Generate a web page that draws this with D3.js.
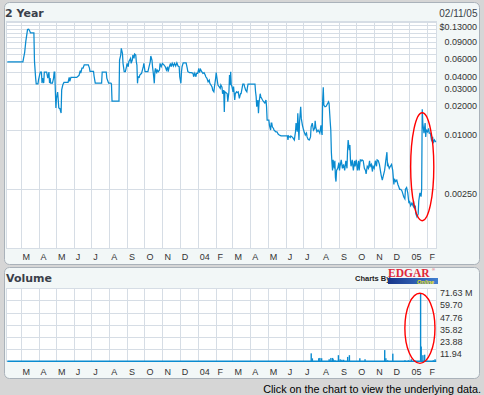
<!DOCTYPE html>
<html>
<head>
<meta charset="utf-8">
<script src="https://cdn.jsdelivr.net/npm/d3@7"></script>
<style>
body { margin: 0; background: #d6d6d6; }
svg { display: block; }
</style>
</head>
<body>
<script>

// ---- data (days counted from startDate) ----
var startDate = new Date(2003, 1, 5);
var endDate = new Date(2005, 1, 17);
var asOfLabel = "02/11/05";

var priceSeries = [[1,0.0505],[28,0.0505],[29,0.0543],[31,0.0626],[33,0.0818],[36,0.108],[38,0.109],[40,0.104],[41,0.0996],[47,0.0996],[48,0.051],[50,0.0344],[51,0.0301],[54,0.0301],[55,0.033],[57,0.0373],[58,0.0397],[60,0.0397],[61,0.0306],[62,0.0344],[64,0.0306],[65,0.0397],[69,0.0397],[71,0.0344],[73,0.0397],[74,0.0306],[75,0.0344],[76,0.0306],[79,0.0306],[81,0.0344],[82,0.0397],[83,0.0397],[85,0.017],[86,0.0215],[88,0.0247],[89,0.0207],[90,0.017],[92,0.0167],[94,0.0151],[95,0.0261],[97,0.0294],[99,0.0311],[106,0.0311],[108,0.035],[109,0.0319],[111,0.035],[121,0.035],[125,0.0367],[127,0.0409],[128,0.0388],[130,0.0436],[132,0.0436],[134,0.0471],[141,0.0471],[143,0.0436],[144,0.0403],[150,0.0403],[151,0.0359],[153,0.0306],[164,0.0306],[165,0.0397],[172,0.0397],[173,0.0344],[176,0.0306],[180,0.0306],[181,0.0299],[182,0.02],[194,0.02],[195,0.0527],[197,0.0592],[198,0.0694],[200,0.0617],[201,0.0487],[203,0.04],[205,0.04],[207,0.045],[208,0.0487],[210,0.045],[211,0.0505],[214,0.0548],[215,0.0487],[217,0.0527],[218,0.0592],[220,0.0548],[221,0.0607],[223,0.0592],[224,0.0505],[225,0.0468],[226,0.0304],[227,0.0355],[229,0.035],[230,0.037],[233,0.0385],[236,0.045],[237,0.0487],[239,0.04],[244,0.04],[246,0.045],[248,0.0505],[249,0.0579],[251,0.0527],[252,0.045],[254,0.0355],[255,0.0304],[256,0.04],[257,0.0433],[259,0.0385],[260,0.0416],[262,0.04],[264,0.0416],[265,0.0487],[267,0.045],[269,0.0487],[272,0.0468],[274,0.045],[276,0.0416],[278,0.045],[279,0.04],[281,0.045],[283,0.0487],[284,0.045],[286,0.0487],[288,0.0457],[290,0.0487],[292,0.0457],[294,0.0493],[296,0.0457],[298,0.045],[299,0.0355],[301,0.0304],[302,0.04],[303,0.045],[305,0.0493],[310,0.0493],[312,0.0433],[313,0.04],[316,0.0391],[319,0.0391],[322,0.0385],[323,0.0355],[325,0.0385],[327,0.0355],[328,0.0385],[330,0.0385],[332,0.0433],[333,0.0391],[335,0.0423],[337,0.04],[339,0.0385],[341,0.0391],[343,0.037],[344,0.0355],[346,0.0342],[348,0.0315],[350,0.0328],[351,0.0304],[353,0.0292],[355,0.0277],[356,0.0259],[358,0.0249],[359,0.0281],[361,0.0342],[362,0.0391],[363,0.0355],[365,0.0292],[367,0.0281],[369,0.027],[370,0.0292],[372,0.0277],[373,0.0238],[375,0.0259],[376,0.0155],[377,0.0249],[379,0.0244],[381,0.0238],[382,0.0197],[384,0.0249],[385,0.037],[386,0.0292],[387,0.04],[388,0.0292],[389,0.0285],[391,0.0249],[392,0.0281],[394,0.0205],[395,0.0238],[397,0.0249],[398,0.0244],[400,0.0249],[402,0.0213],[404,0.0238],[405,0.0238],[408,0.0299],[410,0.0299],[411,0.0281],[413,0.0259],[415,0.0249],[416,0.0277],[417,0.0299],[429,0.0299],[430,0.0249],[431,0.0222],[432,0.0175],[434,0.0205],[435,0.015],[436,0.0191],[438,0.0238],[439,0.0222],[442,0.0205],[444,0.0197],[446,0.0191],[448,0.0205],[449,0.0175],[450,0.0128],[453,0.0128],[454,0.0113],[456,0.0101],[457,0.0119],[458,0.0119],[459,0.0109],[461,0.0105],[462,0.0101],[465,0.0097],[467,0.0097],[469,0.0092],[471,0.009],[474,0.0088],[485,0.0088],[486,0.008],[487,0.0088],[490,0.0085],[491,0.0088],[494,0.0085],[497,0.008],[499,0.0097],[500,0.0119],[502,0.0097],[503,0.015],[504,0.0109],[505,0.008],[506,0.0123],[508,0.0175],[509,0.0133],[511,0.0113],[513,0.0101],[514,0.0097],[516,0.009],[518,0.0094],[519,0.0086],[521,0.0081],[523,0.008],[525,0.0086],[526,0.0109],[528,0.0119],[530,0.0101],[532,0.0105],[533,0.0126],[534,0.0109],[536,0.0097],[538,0.0101],[540,0.0097],[541,0.0094],[543,0.0113],[544,0.0097],[545,0.009],[546,0.0205],[547,0.0277],[548,0.0182],[550,0.0175],[552,0.0177],[555,0.0191],[556,0.0197],[557,0.0191],[559,0.0123],[560,0.0101],[561,0.006],[562,0.0047],[563,0.0039],[564,0.005],[566,0.0041],[567,0.0049],[568,0.0033],[569,0.003],[570,0.0039],[572,0.0041],[574,0.0047],[575,0.0039],[576,0.0043],[578,0.005],[580,0.0041],[582,0.0045],[584,0.0039],[586,0.0049],[588,0.0041],[589,0.0063],[590,0.008],[592,0.0063],[593,0.0071],[594,0.0049],[595,0.0043],[597,0.005],[599,0.0039],[601,0.0049],[602,0.0043],[604,0.005],[606,0.0039],[608,0.0049],[609,0.0039],[611,0.005],[613,0.0049],[614,0.005],[616,0.0049],[618,0.0041],[620,0.0039],[621,0.0036],[623,0.0043],[625,0.0041],[627,0.0049],[628,0.0043],[630,0.0045],[632,0.0038],[633,0.0043],[635,0.0041],[637,0.0049],[639,0.0043],[640,0.005],[642,0.0049],[644,0.0045],[646,0.0038],[647,0.0035],[649,0.0031],[650,0.0033],[651,0.0035],[653,0.0039],[655,0.0049],[657,0.006],[658,0.0043],[659,0.0045],[661,0.0041],[663,0.0043],[665,0.0045],[667,0.0039],[668,0.0033],[669,0.0028],[670,0.0032],[672,0.003],[674,0.0031],[676,0.0028],[677,0.0027],[679,0.0025],[681,0.0025],[683,0.0024],[684,0.0023],[686,0.0021],[688,0.002],[689,0.0025],[691,0.0026],[693,0.0023],[695,0.0018],[696,0.0019],[698,0.0017],[700,0.0018],[702,0.0017],[703,0.0019],[704,0.0016],[706,0.0017],[707,0.0014],[709,0.0013],[711,0.0014],[712,0.0019],[714,0.0023],[716,0.0021],[717,0.0025],[718,0.0165],[719,0.0119],[721,0.0094],[722,0.0105],[723,0.0119],[724,0.0086],[725,0.0101],[727,0.0097],[729,0.0105],[730,0.0094],[732,0.0094],[734,0.008],[736,0.0086],[737,0.0074],[739,0.008],[741,0.0077],[742,0.0077]];

// volume in millions
var volumeSeries = [[526,7.8],[528,2.9],[539,3.0],[541,3.3],[544,3.0],[557,2.0],[560,3.3],[563,3.3],[564,2.0],[567,1.0],[573,6.0],[576,2.0],[579,1.5],[582,1.5],[589,4.3],[592,6.0],[610,3.0],[619,2.0],[653,11.0],[655,3.0],[658,1.0],[667,7.5],[688,1.0],[694,1.0],[699,2.0],[705,0.8],[715,67.0],[716,14.5],[719,6.0],[722,6.5],[737,1.0],[740,2.0]];

var priceGrid = [0.13, 0.12, 0.11, 0.10, 0.09, 0.08, 0.07, 0.06, 0.05, 0.04, 0.03, 0.02, 0.01, 0.0025];
var priceLabelled = [0.13, 0.09, 0.06, 0.04, 0.03, 0.02, 0.01, 0.0025];
var volumeTicks = [11.94, 23.88, 35.82, 47.76, 59.70, 71.63];
var volumeMax = 71.63;

// circled region
var markDays = [698, 738];
var markPrice = [0.00119, 0.0152];
var markVolDays = [688, 740];
var markVol = [-2, 66.7];

// ---- layout ----
var W = 484, H = 395;
var lineBlue = "#0a8bd0", gridCol = "#d6dde5";
var font = "'Liberation Sans', Arial, sans-serif";
var titleFont = "'DejaVu Sans', Verdana, sans-serif";

function dayToDate(d) { return d3.timeDay.offset(startDate, d); }

var x = d3.scaleTime().domain([startDate, endDate]).range([6.7, 436.7]);
var y = d3.scaleLog().domain([0.000622, 0.13]).range([248.3, 21.7]);
var vy = d3.scaleLinear().domain([0, volumeMax]).range([361.3, 288.3]);

var months = d3.timeMonth.range(startDate, endDate);
function monthLabel(m) { return m.getMonth() === 0 ? d3.timeFormat("%y")(m) : d3.timeFormat("%b")(m).charAt(0); }
function px(v) { return Math.round(v) + 0.5; }

var svg = d3.select("body").append("svg").attr("width", W).attr("height", H);

svg.append("rect").attr("width", W).attr("height", H).attr("fill", "#d6d6d6");

// panels
svg.append("rect").attr("x", 4.5).attr("y", 2.5).attr("width", 475).attr("height", 262)
  .attr("rx", 5).attr("fill", "#f2f7f7").attr("stroke", "#aab2ba");
svg.append("rect").attr("x", 4.5).attr("y", 267.5).attr("width", 475).attr("height", 111)
  .attr("rx", 5).attr("fill", "#f2f7f7").attr("stroke", "#aab2ba");

// titles
svg.append("text").attr("x", 5).attr("y", 16.7).attr("font-family", titleFont).attr("font-weight", "bold")
  .attr("font-size", 11).attr("fill", "#3a3f4a").text("2 Year");
svg.append("text").attr("x", 477.5).attr("y", 16.7).attr("text-anchor", "end").attr("font-family", font)
  .attr("font-size", 10).attr("fill", "#3a3f4a").text(asOfLabel);
svg.append("text").attr("x", 6).attr("y", 282.3).attr("font-family", titleFont).attr("font-weight", "bold")
  .attr("font-size", 11).attr("fill", "#3a3f4a").text("Volume");

// ---- price plot ----
var pricePanel = svg.append("g");
pricePanel.append("rect").attr("x", 6.5).attr("y", 21.5).attr("width", 430).attr("height", 227)
  .attr("fill", "#fff").attr("stroke", gridCol).attr("shape-rendering", "crispEdges");
pricePanel.selectAll("line.hg").data(priceGrid).join("line").attr("class", "hg")
  .attr("x1", 6.5).attr("x2", 436.5).attr("y1", function(d) { return px(y(d)); }).attr("y2", function(d) { return px(y(d)); })
  .attr("stroke", gridCol).attr("shape-rendering", "crispEdges");
pricePanel.selectAll("line.vg").data(months).join("line").attr("class", "vg")
  .attr("x1", function(d) { return px(x(d)); }).attr("x2", function(d) { return px(x(d)); })
  .attr("y1", 21.5).attr("y2", 248.5).attr("stroke", gridCol).attr("shape-rendering", "crispEdges");

pricePanel.selectAll("text.pl").data(priceLabelled).join("text").attr("class", "pl")
  .attr("x", 477).attr("y", function(d) { return y(d) + 8; }).attr("text-anchor", "end")
  .attr("font-family", font).attr("font-size", 9).attr("fill", "#333")
  .text(function(d, i) { return (i === 0 ? "$" : "") + d3.format(".5f")(d); });

pricePanel.selectAll("text.ml").data(months).join("text").attr("class", "ml")
  .attr("x", function(d) { return x(d) + 2; }).attr("y", 260).attr("font-family", font)
  .attr("font-size", 9).attr("fill", "#333").text(monthLabel);

var line = d3.line().x(function(d) { return x(dayToDate(d[0])); }).y(function(d) { return y(d[1]); });
pricePanel.append("path").datum(priceSeries).attr("d", line).attr("fill", "none")
  .attr("stroke", lineBlue).attr("stroke-width", 1.25);

pricePanel.append("ellipse")
  .attr("cx", (x(dayToDate(markDays[0])) + x(dayToDate(markDays[1]))) / 2)
  .attr("rx", (x(dayToDate(markDays[1])) - x(dayToDate(markDays[0]))) / 2)
  .attr("cy", (y(markPrice[0]) + y(markPrice[1])) / 2)
  .attr("ry", (y(markPrice[0]) - y(markPrice[1])) / 2)
  .attr("fill", "none").attr("stroke", "#ff0000").attr("stroke-width", 1.4);

// ---- volume plot ----
var volPanel = svg.append("g");
volPanel.append("rect").attr("x", 6.5).attr("y", 288.5).attr("width", 430).attr("height", 73)
  .attr("fill", "#fff").attr("stroke", gridCol).attr("shape-rendering", "crispEdges");
volPanel.selectAll("line.hg").data(volumeTicks).join("line").attr("class", "hg")
  .attr("x1", 6.5).attr("x2", 436.5).attr("y1", function(d) { return px(vy(d)); }).attr("y2", function(d) { return px(vy(d)); })
  .attr("stroke", gridCol).attr("shape-rendering", "crispEdges");
volPanel.selectAll("line.vg").data(months).join("line").attr("class", "vg")
  .attr("x1", function(d) { return px(x(d)); }).attr("x2", function(d) { return px(x(d)); })
  .attr("y1", 288.5).attr("y2", 361.5).attr("stroke", gridCol).attr("shape-rendering", "crispEdges");

volPanel.selectAll("text.vl").data(volumeTicks).join("text").attr("class", "vl")
  .attr("x", 440).attr("y", function(d) { return vy(d) + 8; })
  .attr("font-family", font).attr("font-size", 9).attr("fill", "#333")
  .text(function(d) { return d3.format(".2f")(d) + (d === volumeMax ? " M" : ""); });

volPanel.selectAll("text.ml").data(months).join("text").attr("class", "ml")
  .attr("x", function(d) { return x(d) + 2; }).attr("y", 375).attr("font-family", font)
  .attr("font-size", 9).attr("fill", "#333").text(monthLabel);

volPanel.append("line")
  .attr("x1", x(dayToDate(priceSeries[0][0]))).attr("x2", x(dayToDate(priceSeries[priceSeries.length - 1][0])))
  .attr("y1", vy(0)).attr("y2", vy(0)).attr("stroke", lineBlue).attr("stroke-width", 1.6);

volPanel.selectAll("rect.bar").data(volumeSeries).join("rect").attr("class", "bar")
  .attr("x", function(d) { return x(dayToDate(d[0])) - 0.6; }).attr("width", 1.4)
  .attr("y", function(d) { return vy(d[1]); }).attr("height", function(d) { return vy(0) - vy(d[1]); })
  .attr("fill", lineBlue);

volPanel.append("ellipse")
  .attr("cx", (x(dayToDate(markVolDays[0])) + x(dayToDate(markVolDays[1]))) / 2)
  .attr("rx", (x(dayToDate(markVolDays[1])) - x(dayToDate(markVolDays[0]))) / 2)
  .attr("cy", (vy(markVol[0]) + vy(markVol[1])) / 2)
  .attr("ry", (vy(markVol[0]) - vy(markVol[1])) / 2)
  .attr("fill", "none").attr("stroke", "#ff0000").attr("stroke-width", 1.4);

// ---- logo ----
var logo = svg.append("g");
logo.append("text").attr("x", 355).attr("y", 281).attr("font-family", font).attr("font-weight", "bold")
  .attr("font-size", 7.5).attr("fill", "#222").text("Charts By");
var grad = svg.append("defs").append("linearGradient").attr("id", "eg");
grad.append("stop").attr("offset", "0%").attr("stop-color", "#17358a");
grad.append("stop").attr("offset", "100%").attr("stop-color", "#3f7fd0");
logo.append("rect").attr("x", 388).attr("y", 278).attr("width", 50).attr("height", 6).attr("fill", "url(#eg)");
logo.append("text").attr("x", 388).attr("y", 276.6).attr("font-family", "'Liberation Serif', 'Times New Roman', serif")
  .attr("font-weight", "bold").attr("font-size", 11.5).attr("fill", "#e0283a").text("EDGAR");
logo.append("text").attr("x", 432).attr("y", 271).attr("font-family", font).attr("font-size", 4)
  .attr("fill", "#e0283a").text("®");
logo.append("text").attr("x", 417).attr("y", 284.4).attr("font-family", font).attr("font-style", "italic")
  .attr("font-weight", "bold").attr("font-size", 5.5).attr("fill", "#f2e622").text("Online");

svg.append("text").attr("x", 481).attr("y", 392.5).attr("text-anchor", "end").attr("font-family", font)
  .attr("font-size", 10.8).attr("fill", "#000").text("Click on the chart to view the underlying data.");

</script>
</body>
</html>
